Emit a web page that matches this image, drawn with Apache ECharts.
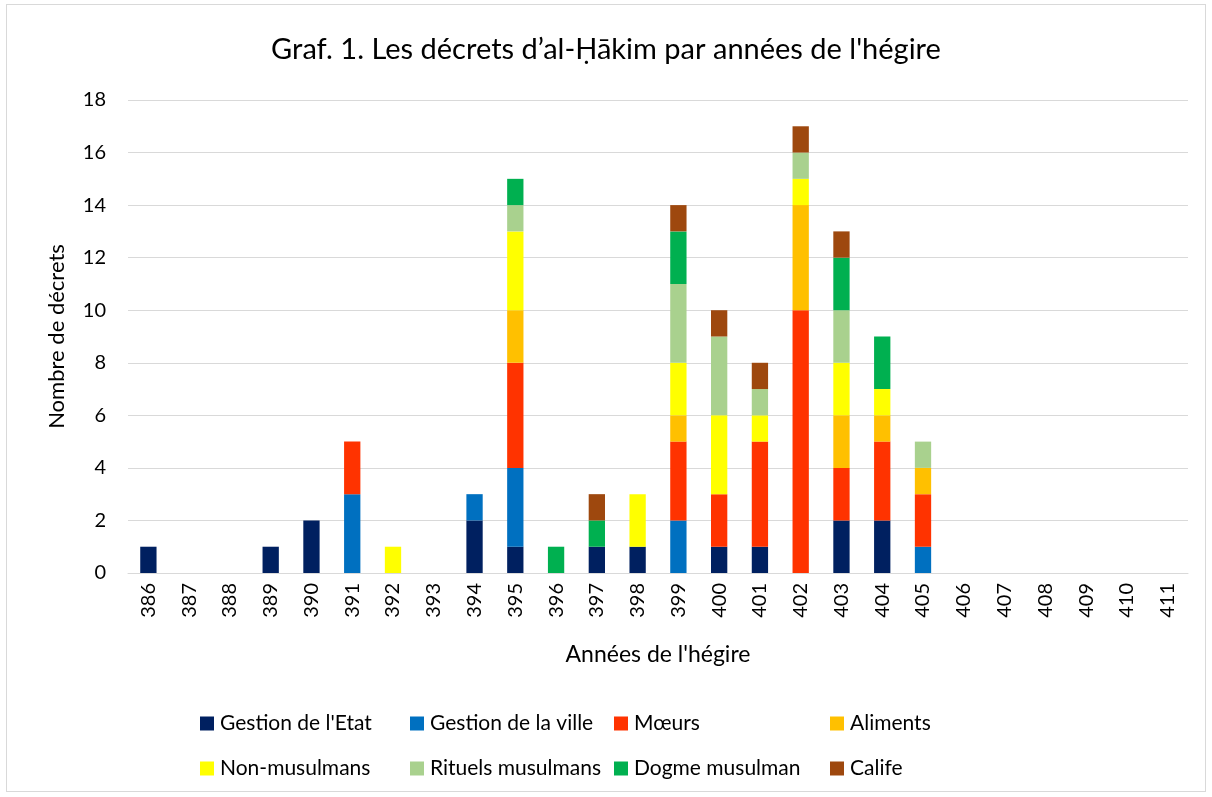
<!DOCTYPE html>
<html>
<head>
<meta charset="utf-8">
<script src="https://cdn.jsdelivr.net/npm/echarts@6/dist/echarts.min.js"></script>
<style>
  html, body { margin: 0; padding: 0; background: #fff; }
  #frame { position: absolute; left: 6px; top: 4px; width: 1198px; height: 786px; border: 1px solid #d9d9d9; }
  #chart { position: absolute; left: 0; top: 0; width: 1212px; height: 797px; }
</style>
</head>
<body>
<div id="frame"></div>
<div id="chart"></div>
<script>
var years = ['386','387','388','389','390','391','392','393','394','395','396','397','398',
             '399','400','401','402','403','404','405','406','407','408','409','410','411'];

var gestionEtat  = [1,0,0,1,2,0,0,0,2,1,0,1,1,0,1,1,0,2,2,0,0,0,0,0,0,0];
var gestionVille = [0,0,0,0,0,3,0,0,1,3,0,0,0,2,0,0,0,0,0,1,0,0,0,0,0,0];
var moeurs       = [0,0,0,0,0,2,0,0,0,4,0,0,0,3,2,4,10,2,3,2,0,0,0,0,0,0];
var aliments     = [0,0,0,0,0,0,0,0,0,2,0,0,0,1,0,0,4,2,1,1,0,0,0,0,0,0];
var nonMusulmans = [0,0,0,0,0,0,1,0,0,3,0,0,2,2,3,1,1,2,1,0,0,0,0,0,0,0];
var rituels      = [0,0,0,0,0,0,0,0,0,1,0,0,0,3,3,1,1,2,0,1,0,0,0,0,0,0];
var dogme        = [0,0,0,0,0,0,0,0,0,1,1,1,0,2,0,0,0,2,2,0,0,0,0,0,0,0];
var calife       = [0,0,0,0,0,0,0,0,0,0,0,1,0,1,1,1,1,1,0,0,0,0,0,0,0,0];

var names  = ["Gestion de l'Etat", 'Gestion de la ville', 'Mœurs', 'Aliments',
              'Non-musulmans', 'Rituels musulmans', 'Dogme musulman', 'Calife'];
var values = [gestionEtat, gestionVille, moeurs, aliments, nonMusulmans, rituels, dogme, calife];
var colors = ['#002060', '#0070C0', '#FF3300', '#FFC000', '#FFFF00', '#A9D18E', '#00B050', '#9E480E'];

var font = 'Lato, "Open Sans", sans-serif';

var series = [];
for (var i = 0; i < names.length; i++) {
  series.push({
    name: names[i],
    type: 'bar',
    stack: 'total',
    barWidth: '40%',
    itemStyle: { color: colors[i] },
    data: values[i].map(function (v) { return v === 0 ? '-' : v; })
  });
}

function legendCol(left, a, b) {
  return {
    orient: 'vertical',
    left: left,
    top: 713,
    padding: 0,
    itemGap: 24,
    itemWidth: 14,
    itemHeight: 14,
    icon: 'rect',
    data: [names[a], names[b]],
    textStyle: { fontFamily: font, fontSize: 21, color: '#000', padding: [0, 0, 0, 1] }
  };
}

var myChart = echarts.init(document.getElementById('chart'));
var option = {
  animation: false,
  textStyle: { fontFamily: font },
  title: {
    text: "Graf. 1. Les décrets d’al-Ḥākim par années de l'hégire",
    left: 'center',
    top: 30,
    textStyle: { fontFamily: font, fontSize: 29, fontWeight: 'normal', color: '#000' }
  },
  legend: [
    legendCol(200, 0, 4),
    legendCol(410, 1, 5),
    legendCol(614, 2, 6),
    legendCol(830, 3, 7)
  ],
  grid: { left: 128, right: 24, top: 100, bottom: 224 },
  xAxis: {
    type: 'category',
    data: years,
    name: "Années de l'hégire",
    nameLocation: 'middle',
    nameGap: 70,
    nameTextStyle: { fontFamily: font, fontSize: 23, color: '#000' },
    axisLine: { lineStyle: { color: '#d9d9d9', width: 1 } },
    axisTick: { show: false },
    axisLabel: { rotate: 90, fontSize: 20, color: '#000', fontFamily: font, margin: 10 }
  },
  yAxis: {
    type: 'value',
    min: 0,
    max: 18,
    interval: 2,
    name: 'Nombre de décrets',
    nameLocation: 'middle',
    nameGap: 60,
    nameTextStyle: { fontFamily: font, fontSize: 22, color: '#000' },
    axisLine: { show: false },
    axisTick: { show: false },
    axisLabel: { fontSize: 20, color: '#000', fontFamily: font, margin: 22 },
    splitLine: { lineStyle: { color: '#d9d9d9', width: 1 } }
  },
  series: series
};
option && myChart.setOption(option);
</script>
</body>
</html>
